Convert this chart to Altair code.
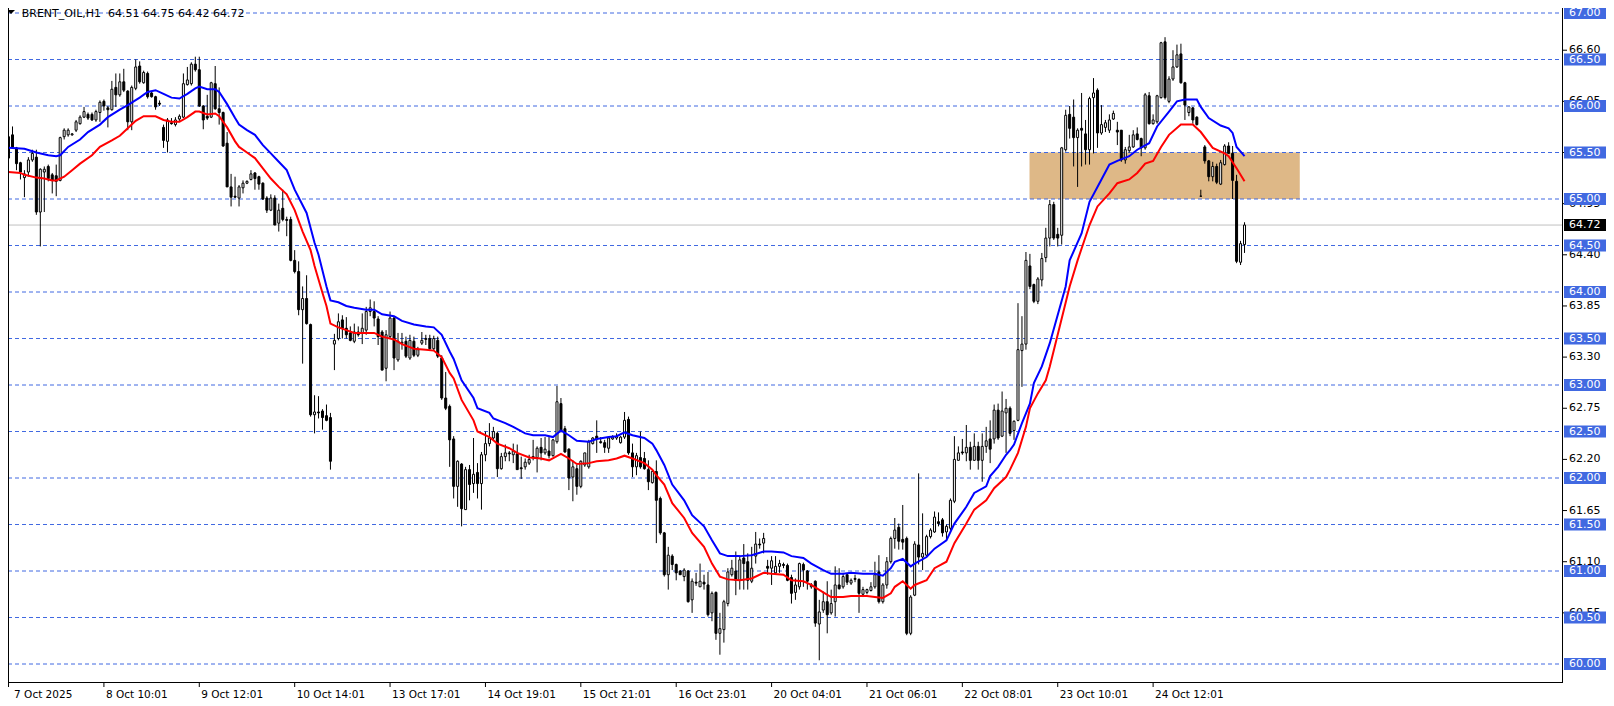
import altair as alt
import pandas as pd

# ---------------- values ----------------
# hourly bars, left to right (bar index = position in the lists)
bar_open = [
    65.44, 65.69, 65.55, 65.39, 65.23, 65.29, 65.42, 65.45, 64.86, 65.29,
    65.35, 65.26, 65.25, 65.20, 65.67, 65.69, 65.69, 65.74, 65.81, 65.88,
    65.91, 65.91, 65.85, 65.93, 66.05, 65.98, 65.96, 66.20, 66.12, 66.26,
    66.16, 65.83, 66.19, 66.43, 66.25, 66.35, 66.14, 66.10, 66.03, 65.77,
    65.62, 65.82, 65.80, 65.86, 65.88, 66.23, 66.24, 66.45, 66.39, 66.00,
    65.89, 65.88, 66.24, 65.97, 65.93, 65.60, 65.13, 65.03, 65.01, 65.12,
    65.17, 65.21, 65.28, 65.24, 65.17, 65.01, 64.88, 65.01, 64.74, 64.90,
    64.78, 64.78, 64.34, 64.22, 63.81, 63.93, 63.65, 62.68, 62.71, 62.72,
    62.67, 62.65, 63.44, 63.50, 63.70, 63.61, 63.56, 63.47, 63.57, 63.56,
    63.59, 63.79, 63.79, 63.71, 63.57, 63.18, 63.52, 63.72, 63.27, 63.45,
    63.47, 63.29, 63.47, 63.32, 63.45, 63.49, 63.50, 63.39, 63.48, 63.29,
    62.86, 62.77, 62.42, 61.91, 62.15, 61.66, 62.09, 61.94, 62.06, 61.94,
    62.25, 62.37, 62.43, 62.48, 62.10, 62.23, 62.27, 62.25, 62.26, 62.11,
    62.12, 62.16, 62.23, 62.22, 62.33, 62.27, 62.29, 62.24, 62.39, 62.80,
    62.53, 62.31, 62.01, 62.10, 61.91, 62.14, 62.12, 62.37, 62.45, 62.39,
    62.38, 62.32, 62.42, 62.43, 62.38, 62.44, 62.63, 62.27, 62.12, 62.22,
    62.21, 62.09, 61.95, 62.07, 61.78, 61.41, 60.96, 61.16, 61.07, 61.00,
    60.94, 61.00, 60.69, 60.88, 60.83, 60.88, 60.85, 60.55, 60.77, 60.33,
    60.37, 60.65, 60.96, 61.00, 60.90, 61.14, 61.10, 60.89, 61.16, 61.29,
    61.30, 61.05, 61.03, 60.98, 61.05, 61.07, 61.06, 60.93, 60.77, 60.83,
    61.07, 61.00, 60.83, 60.89, 60.43, 60.58, 60.67, 60.55, 60.67, 60.85,
    60.83, 60.96, 60.87, 60.92, 60.91, 60.75, 60.77, 60.79, 60.83, 60.99,
    60.67, 60.85, 61.10, 61.35, 61.47, 61.34, 61.35, 60.33, 60.74, 61.28,
    61.15, 61.17, 61.37, 61.42, 61.53, 61.55, 61.42, 61.46, 61.75, 62.19,
    62.28, 62.27, 62.33, 62.19, 62.34, 62.19, 62.34, 62.42, 62.42, 62.73,
    62.45, 62.70, 62.75, 62.51, 62.62, 63.37, 63.44, 64.28, 64.08, 63.90,
    64.13, 64.37, 64.58, 64.94, 64.62, 64.61, 65.53, 65.91, 65.88, 65.66,
    65.76, 65.70, 65.53, 66.09, 66.17, 65.71, 65.77, 65.74, 65.86, 65.74,
    65.74, 65.42, 65.52, 65.56, 65.70, 65.65, 65.55, 66.11, 65.81, 65.83,
    66.09, 66.69, 66.05, 66.29, 66.42, 66.56, 66.25, 65.93, 65.98, 65.88,
    65.03, 65.56, 65.41, 65.24, 65.35, 65.16, 65.37, 65.57, 65.49, 65.19, 64.32, 64.51,
]
bar_high = [
    65.78, 65.78, 65.56, 65.40, 65.31, 65.45, 65.53, 65.53, 65.33, 65.35,
    65.37, 65.28, 65.37, 65.67, 65.76, 65.76, 65.71, 65.85, 65.90, 65.99,
    65.93, 65.93, 65.96, 66.06, 66.07, 66.00, 66.27, 66.35, 66.35, 66.40,
    66.17, 66.22, 66.50, 66.48, 66.38, 66.37, 66.15, 66.11, 66.06, 65.80,
    65.87, 65.87, 65.88, 65.91, 66.35, 66.42, 66.47, 66.53, 66.53, 66.01,
    66.12, 66.26, 66.43, 66.20, 65.94, 65.72, 65.27, 65.24, 65.15, 65.20,
    65.20, 65.31, 65.29, 65.25, 65.18, 65.03, 65.05, 65.04, 64.95, 65.10,
    64.81, 64.81, 64.45, 64.33, 64.06, 64.18, 63.66, 62.89, 62.88, 62.74,
    62.79, 62.70, 63.55, 63.77, 63.75, 63.73, 63.63, 63.66, 63.63, 63.77,
    63.84, 63.92, 63.90, 63.74, 63.59, 63.59, 63.79, 63.74, 63.56, 63.56,
    63.52, 63.54, 63.52, 63.41, 63.57, 63.54, 63.54, 63.53, 63.52, 63.32,
    63.14, 62.79, 62.45, 62.19, 62.16, 62.12, 62.14, 62.43, 62.16, 62.28,
    62.50, 62.59, 62.55, 62.50, 62.27, 62.36, 62.29, 62.37, 62.36, 62.23,
    62.21, 62.25, 62.41, 62.34, 62.43, 62.44, 62.44, 62.42, 62.99, 62.86,
    62.56, 62.32, 62.19, 62.14, 62.19, 62.27, 62.41, 62.44, 62.62, 62.44,
    62.41, 62.44, 62.46, 62.48, 62.45, 62.71, 62.66, 62.37, 62.27, 62.50,
    62.28, 62.19, 62.09, 62.19, 61.80, 61.42, 61.26, 61.18, 61.08, 61.01,
    61.03, 61.01, 60.92, 60.98, 61.08, 60.96, 60.99, 60.78, 60.78, 60.55,
    60.69, 61.03, 61.12, 61.21, 61.16, 61.29, 61.19, 61.26, 61.42, 61.35,
    61.41, 61.12, 61.16, 61.16, 61.12, 61.09, 61.08, 60.96, 60.92, 61.09,
    61.09, 61.01, 60.87, 60.90, 60.69, 60.78, 60.89, 60.80, 61.05, 61.03,
    60.98, 60.98, 60.92, 60.96, 60.92, 60.83, 60.81, 60.88, 61.10, 61.17,
    60.87, 61.15, 61.37, 61.57, 61.51, 61.71, 61.37, 60.74, 61.32, 62.05,
    61.62, 61.39, 61.46, 61.64, 61.63, 61.57, 61.50, 61.78, 62.45, 62.34,
    62.42, 62.57, 62.39, 62.48, 62.39, 62.48, 62.55, 62.62, 62.79, 62.80,
    62.93, 62.85, 62.77, 62.62, 63.88, 63.74, 64.43, 64.41, 64.09, 64.16,
    64.42, 64.69, 64.99, 64.97, 64.69, 65.56, 65.96, 66.00, 66.07, 65.76,
    66.14, 65.85, 66.10, 66.30, 66.19, 66.01, 65.85, 65.91, 65.95, 65.83,
    65.74, 65.56, 65.69, 65.74, 65.77, 65.66, 66.14, 66.15, 65.91, 66.12,
    66.69, 66.74, 66.32, 66.60, 66.66, 66.67, 66.26, 66.00, 65.99, 65.89,
    65.10, 65.58, 65.42, 65.40, 65.38, 65.42, 65.59, 65.61, 65.57, 65.26, 64.55, 64.75,
]
bar_low = [
    65.42, 65.54, 65.31, 65.21, 65.02, 65.24, 65.40, 64.83, 64.49, 64.86,
    65.19, 65.06, 65.03, 65.19, 65.64, 65.67, 65.68, 65.72, 65.80, 65.87,
    65.85, 65.84, 65.83, 65.83, 65.95, 65.77, 65.95, 65.99, 66.10, 66.15,
    65.74, 65.74, 66.17, 66.24, 66.24, 66.08, 66.09, 65.96, 66.00, 65.55,
    65.50, 65.80, 65.78, 65.84, 65.87, 66.22, 66.22, 66.37, 65.99, 65.75,
    65.85, 65.87, 65.96, 65.80, 65.56, 65.13, 64.92, 65.01, 64.92, 65.06,
    65.16, 65.20, 65.10, 65.10, 64.99, 64.85, 64.87, 64.72, 64.65, 64.76,
    64.60, 64.33, 64.20, 63.75, 63.23, 63.65, 62.66, 62.48, 62.64, 62.52,
    62.61, 62.09, 63.16, 63.48, 63.50, 63.50, 63.47, 63.45, 63.52, 63.44,
    63.54, 63.74, 63.63, 63.43, 63.16, 63.04, 63.50, 63.16, 63.25, 63.38,
    63.29, 63.27, 63.30, 63.30, 63.43, 63.43, 63.38, 63.37, 63.29, 62.84,
    62.73, 62.12, 61.78, 61.69, 61.48, 61.66, 61.76, 61.84, 61.78, 61.66,
    62.18, 62.34, 62.41, 62.01, 62.09, 62.18, 62.18, 62.16, 62.09, 61.99,
    62.09, 62.14, 62.19, 62.06, 62.19, 62.25, 62.21, 62.23, 62.37, 62.49,
    62.27, 61.87, 61.75, 61.82, 61.89, 62.12, 62.10, 62.36, 62.27, 62.37,
    62.27, 62.27, 62.41, 62.41, 62.37, 62.42, 62.25, 62.01, 62.03, 62.10,
    62.09, 61.87, 61.94, 61.30, 61.39, 60.94, 60.80, 61.01, 60.90, 60.96,
    60.89, 60.66, 60.55, 60.84, 60.83, 60.80, 60.51, 60.46, 60.26, 60.10,
    60.23, 60.62, 60.94, 60.74, 60.80, 60.80, 60.80, 60.87, 61.08, 61.24,
    61.19, 60.96, 60.85, 60.96, 60.98, 61.03, 60.89, 60.65, 60.69, 60.80,
    60.83, 60.80, 60.81, 60.40, 60.04, 60.55, 60.33, 60.53, 60.51, 60.80,
    60.81, 60.85, 60.85, 60.88, 60.55, 60.72, 60.75, 60.78, 60.81, 60.65,
    60.65, 60.81, 61.08, 61.24, 61.23, 61.23, 60.31, 60.31, 60.73, 61.07,
    61.01, 61.15, 61.35, 61.41, 61.48, 61.37, 61.33, 61.44, 61.73, 62.19,
    62.25, 62.18, 62.09, 62.19, 62.09, 61.96, 62.27, 62.16, 62.37, 62.41,
    62.44, 62.27, 62.45, 62.41, 62.61, 62.98, 63.38, 64.03, 63.88, 63.87,
    64.06, 64.32, 64.49, 64.56, 64.49, 64.51, 65.51, 65.65, 65.35, 65.13,
    65.35, 65.37, 65.37, 65.49, 65.55, 65.69, 65.72, 65.71, 65.85, 65.58,
    65.40, 65.38, 65.50, 65.55, 65.63, 65.46, 65.53, 65.80, 65.80, 65.81,
    66.08, 66.07, 66.03, 66.27, 66.41, 66.24, 65.85, 65.89, 65.81, 65.79,
    65.03, 65.38, 65.19, 65.19, 65.16, 65.15, 65.36, 65.49, 65.00, 64.31, 64.29, 64.42,
]
bar_close = [
    65.67, 65.56, 65.38, 65.29, 65.27, 65.42, 65.49, 64.86, 65.32, 65.32,
    65.22, 65.20, 65.19, 65.66, 65.74, 65.74, 65.70, 65.83, 65.88, 65.94,
    65.87, 65.85, 65.94, 66.04, 66.00, 65.96, 66.18, 66.12, 66.26, 66.17,
    65.83, 66.20, 66.42, 66.26, 66.36, 66.10, 66.10, 65.99, 66.02, 65.63,
    65.85, 65.81, 65.85, 65.89, 66.24, 66.28, 66.45, 66.39, 66.00, 65.85,
    65.87, 66.25, 65.97, 65.93, 65.57, 65.13, 65.02, 65.02, 65.13, 65.17,
    65.19, 65.27, 65.22, 65.16, 65.00, 64.88, 65.01, 64.72, 64.88, 64.78,
    64.77, 64.34, 64.22, 63.81, 63.93, 63.66, 62.68, 62.71, 62.70, 62.65,
    62.62, 62.18, 63.48, 63.68, 63.61, 63.54, 63.48, 63.57, 63.54, 63.61,
    63.79, 63.83, 63.72, 63.52, 63.16, 63.54, 63.72, 63.29, 63.47, 63.46,
    63.31, 63.48, 63.32, 63.38, 63.48, 63.50, 63.39, 63.50, 63.31, 62.86,
    62.75, 62.41, 61.91, 62.18, 61.67, 62.09, 61.93, 62.04, 61.94, 62.25,
    62.37, 62.43, 62.50, 62.10, 62.23, 62.27, 62.26, 62.29, 62.09, 62.10,
    62.17, 62.20, 62.22, 62.32, 62.27, 62.31, 62.24, 62.41, 62.82, 62.50,
    62.28, 62.00, 62.12, 61.91, 62.18, 62.27, 62.39, 62.43, 62.42, 62.38,
    62.33, 62.43, 62.44, 62.45, 62.44, 62.62, 62.27, 62.12, 62.24, 62.12,
    62.10, 61.96, 62.07, 61.76, 61.41, 60.96, 61.17, 61.07, 60.98, 60.96,
    61.01, 60.67, 60.89, 60.87, 60.89, 60.86, 60.53, 60.76, 60.33, 60.38,
    60.67, 60.99, 61.03, 60.90, 61.12, 61.08, 60.90, 61.03, 61.29, 61.28,
    61.35, 61.03, 61.11, 61.05, 61.08, 61.06, 60.90, 60.76, 60.85, 61.08,
    61.01, 60.89, 60.85, 60.44, 60.56, 60.67, 60.53, 60.65, 60.85, 60.81,
    60.94, 60.88, 60.90, 60.91, 60.76, 60.80, 60.80, 60.83, 60.96, 60.67,
    60.85, 61.10, 61.35, 61.44, 61.32, 61.31, 60.33, 60.72, 61.29, 61.15,
    61.19, 61.37, 61.44, 61.58, 61.51, 61.41, 61.48, 61.76, 62.20, 62.27,
    62.27, 62.33, 62.19, 62.34, 62.19, 62.34, 62.40, 62.31, 62.73, 62.43,
    62.72, 62.75, 62.48, 62.61, 63.38, 63.44, 64.34, 64.06, 63.90, 64.14,
    64.36, 64.58, 64.94, 64.58, 64.58, 65.55, 65.90, 65.76, 65.66, 65.74,
    65.74, 65.53, 66.08, 66.14, 65.71, 65.80, 65.82, 65.85, 65.92, 65.72,
    65.42, 65.53, 65.56, 65.69, 65.64, 65.55, 66.12, 65.81, 65.85, 66.11,
    66.68, 66.09, 66.29, 66.42, 66.55, 66.25, 66.01, 65.99, 65.85, 65.80,
    65.03, 65.41, 65.24, 65.35, 65.18, 65.39, 65.57, 65.49, 65.20, 64.33, 64.52, 64.72,
]

# blue moving average (bar index, value)
blue_idx = [0, 4, 7, 10, 12, 13, 15, 18, 20, 23, 25, 28, 30, 33, 35, 37, 39, 41, 43, 45,
            47, 48, 50, 52, 53, 55, 57, 58, 60, 62, 64, 66, 68, 70, 72, 75, 77, 78, 80, 81,
            83, 85, 87, 90, 92, 94, 97, 99, 102, 105, 107, 109, 111, 112, 114, 117, 118, 121, 122, 125,
            127, 130, 132, 135, 137, 139, 141, 143, 146, 148, 151, 153, 155, 157, 160, 162, 163, 165, 167, 170,
            172, 175, 177, 179, 181, 184, 187, 190, 192, 195, 197, 200, 202, 205, 207, 210, 212, 215, 218, 220,
            222, 223, 225, 227, 228, 231, 233, 236, 238, 241, 243, 246, 247, 249, 251, 252, 253, 255, 257, 258,
            260, 262, 266, 267, 270, 272, 275, 277, 279, 282, 284, 287, 289, 292, 294, 296, 299, 300, 302, 305,
            307, 308, 309, 311]
blue_val = [65.55, 65.54, 65.50, 65.47, 65.46, 65.47, 65.56, 65.64, 65.72, 65.80, 65.88, 65.96, 66.01, 66.09, 66.15, 66.17, 66.13, 66.09, 66.08, 66.13,
            66.19, 66.21, 66.18, 66.18, 66.15, 66.02, 65.87, 65.80, 65.74, 65.69, 65.58, 65.49, 65.40, 65.31, 65.10, 64.85, 64.53, 64.40, 64.06, 63.91,
            63.89, 63.85, 63.83, 63.81, 63.81, 63.76, 63.74, 63.69, 63.65, 63.63, 63.62, 63.54, 63.36, 63.28, 63.05, 62.86, 62.75, 62.70, 62.64, 62.59,
            62.55, 62.48, 62.46, 62.46, 62.44, 62.51, 62.46, 62.40, 62.39, 62.42, 62.44, 62.45, 62.49, 62.46, 62.43, 62.37, 62.30, 62.14, 61.93, 61.76,
            61.60, 61.48, 61.33, 61.19, 61.16, 61.16, 61.17, 61.21, 61.21, 61.20, 61.16, 61.14, 61.08, 61.01, 60.97, 60.97, 60.98, 60.97, 60.97, 60.95,
            61.03, 61.10, 61.13, 61.05, 61.08, 61.15, 61.24, 61.33, 61.51, 61.69, 61.84, 61.91, 62.02, 62.12, 62.25, 62.30, 62.36, 62.59, 62.80, 63.02,
            63.20, 63.45, 64.06, 64.34, 64.63, 64.97, 65.21, 65.37, 65.41, 65.46, 65.53, 65.60, 65.78, 65.94, 66.05, 66.07, 66.07, 65.99, 65.87, 65.79,
            65.76, 65.71, 65.56, 65.46]

# red moving average (bar index, value)
red_idx = [0, 3, 4, 7, 9, 11, 12, 14, 16, 18, 21, 23, 26, 28, 29, 30, 32, 34, 37, 39,
           41, 43, 45, 47, 48, 50, 52, 53, 55, 57, 58, 60, 62, 64, 66, 68, 70, 72, 74, 76,
           77, 79, 80, 81, 83, 85, 87, 90, 92, 94, 97, 99, 102, 105, 107, 109, 111, 112, 114, 117,
           118, 121, 123, 126, 128, 131, 134, 136, 139, 141, 143, 146, 148, 151, 153, 155, 157, 160, 162, 163,
           165, 167, 170, 172, 175, 177, 179, 181, 184, 187, 190, 192, 195, 197, 200, 202, 205, 207, 210, 212,
           216, 218, 220, 222, 223, 225, 227, 228, 231, 233, 236, 238, 241, 243, 246, 248, 251, 252, 254, 256,
           257, 259, 261, 262, 267, 269, 272, 274, 277, 279, 282, 284, 286, 288, 290, 292, 295, 298, 300, 303,
           306, 307, 309, 311]
red_val = [65.29, 65.28, 65.26, 65.23, 65.22, 65.20, 65.20, 65.24, 65.31, 65.38, 65.47, 65.56, 65.63, 65.68, 65.72, 65.76, 65.84, 65.89, 65.89, 65.85,
           65.83, 65.83, 65.88, 65.94, 65.94, 65.91, 65.92, 65.89, 65.77, 65.62, 65.56, 65.50, 65.44, 65.33, 65.22, 65.13, 65.05, 64.88, 64.65, 64.45,
           64.28, 63.99, 63.85, 63.66, 63.62, 63.59, 63.56, 63.56, 63.56, 63.52, 63.49, 63.44, 63.39, 63.38, 63.37, 63.30, 63.13, 63.07, 62.84, 62.62,
           62.50, 62.44, 62.37, 62.32, 62.27, 62.22, 62.21, 62.19, 62.26, 62.21, 62.15, 62.16, 62.18, 62.19, 62.21, 62.24, 62.21, 62.16, 62.09, 62.03,
           61.93, 61.73, 61.57, 61.41, 61.26, 61.08, 60.94, 60.91, 60.90, 60.92, 60.98, 60.97, 60.96, 60.90, 60.89, 60.85, 60.77, 60.72, 60.72, 60.73,
           60.73, 60.72, 60.71, 60.76, 60.83, 60.89, 60.81, 60.85, 60.90, 61.03, 61.10, 61.30, 61.51, 61.66, 61.76, 61.89, 62.01, 62.09, 62.27, 62.55,
           62.75, 62.91, 63.05, 63.20, 64.06, 64.34, 64.72, 64.92, 65.06, 65.17, 65.21, 65.28, 65.38, 65.41, 65.56, 65.69, 65.80, 65.80, 65.72, 65.55,
           65.49, 65.46, 65.33, 65.19]

# shaded zone (bar index span, price span)
zone_bars = [256.9, 324.9]
zone_prices = [65.0, 65.5]

last_price = 64.72
title_text = "BRENT_OIL,H1\u00a0\u00a064.51 64.75 64.42 64.72"

grid_levels = [60.00, 60.50, 61.00, 61.50, 62.00, 62.50, 63.00, 63.50,
               64.00, 64.50, 65.00, 65.50, 66.00, 66.50, 67.00]
scale_levels = [60.55, 61.10, 61.65, 62.20, 62.75, 63.30, 63.85, 64.40,
                64.95, 65.50, 66.05, 66.60]

time_tick_bars = [0, 24, 48, 72, 96, 120, 144, 168, 192, 216, 240, 264, 288]
time_tick_labels = ["7 Oct 2025", "8 Oct 10:01", "9 Oct 12:01", "10 Oct 14:01",
                    "13 Oct 17:01", "14 Oct 19:01", "15 Oct 21:01", "16 Oct 23:01",
                    "20 Oct 04:01", "21 Oct 06:01", "22 Oct 08:01", "23 Oct 10:01",
                    "24 Oct 12:01"]

n = len(bar_open)
assert n == len(bar_high) == len(bar_low) == len(bar_close), (len(bar_open), len(bar_high), len(bar_low), len(bar_close))
assert len(blue_idx) == len(blue_val), (len(blue_idx), len(blue_val))
assert len(red_idx) == len(red_val), (len(red_idx), len(red_val))

# ---------------- tables ----------------
candles = pd.DataFrame({"i": list(range(n)), "o": bar_open, "h": bar_high,
                        "l": bar_low, "c": bar_close})
candles["fill"] = ["white" if c >= o else "black" for o, c in zip(bar_open, bar_close)]
blue_df = pd.DataFrame({"i": blue_idx, "v": blue_val})
red_df = pd.DataFrame({"i": red_idx, "v": red_val})
zone_df = pd.DataFrame({"x0": [zone_bars[0]], "x1": [zone_bars[1]],
                        "lo": [zone_prices[0]], "hi": [zone_prices[1]]})
grid_df = pd.DataFrame({"lvl": grid_levels, "label": [f"{v:.2f}" for v in grid_levels]})
scale_df = pd.DataFrame({"lvl": scale_levels, "label": [f"{v:.2f}" for v in scale_levels]})
last_df = pd.DataFrame({"lvl": [last_price], "label": [f"{last_price:.2f}"]})
time_df = pd.DataFrame({"i": time_tick_bars, "label": time_tick_labels})
one = pd.DataFrame({"k": [0]})

# ---------------- layout ----------------
PW, PH = 1554, 674
FONT = "DejaVu Sans"
GRID_BLUE = "#4169E1"

xs = alt.Scale(domain=[1.125, 389.625], nice=False, zero=False)
ys = alt.Scale(domain=[59.8065, 67.0538], nice=False, zero=False)


def X(f):
    return alt.X(f, type="quantitative", scale=xs, axis=None)


def Y(f):
    return alt.Y(f, type="quantitative", scale=ys, axis=None)


zone = alt.Chart(zone_df).mark_rect(color="#DEB887").encode(
    x=X("x0"), x2=alt.X2("x1"), y=Y("lo"), y2=alt.Y2("hi"))

grid = alt.Chart(grid_df).mark_rule(color=GRID_BLUE, strokeWidth=1, strokeDash=[4, 3]).encode(
    y=Y("lvl"), x=alt.value(0), x2=alt.value(PW))

last_line = alt.Chart(last_df).mark_rule(color="#C0C0C0", strokeWidth=1).encode(
    y=Y("lvl"), x=alt.value(0), x2=alt.value(PW))

wicks = alt.Chart(candles).mark_rule(color="black", strokeWidth=1).encode(
    x=X("i"), y=Y("l"), y2=alt.Y2("h"))

bodies = alt.Chart(candles).mark_bar(size=2, stroke="black", strokeWidth=1).encode(
    x=X("i"), y=Y("o"), y2=alt.Y2("c"), fill=alt.Fill("fill:N", scale=None))

blue_line = alt.Chart(blue_df).mark_line(color="#0000FF", strokeWidth=2).encode(
    x=X("i"), y=Y("v"))
red_line = alt.Chart(red_df).mark_line(color="#FF0000", strokeWidth=2).encode(
    x=X("i"), y=Y("v"))

right_frame = alt.Chart(one).mark_rule(color="black", strokeWidth=1).encode(
    x=alt.value(PW + 0.5), y=alt.value(0), y2=alt.value(PH + 0.5))
bottom_frame = alt.Chart(one).mark_rule(color="black", strokeWidth=1).encode(
    x=alt.value(0), x2=alt.value(PW + 1), y=alt.value(PH + 0.5))
left_frame = alt.Chart(one).mark_rule(color="black", strokeWidth=1).encode(
    x=alt.value(0.5), y=alt.value(0), y2=alt.value(PH + 0.5))

# right price scale
scale_ticks = alt.Chart(scale_df).mark_rule(color="black", strokeWidth=1).encode(
    y=Y("lvl"), x=alt.value(PW + 1), x2=alt.value(PW + 5))
scale_text = alt.Chart(scale_df).mark_text(
    align="left", baseline="middle", font=FONT, fontSize=11, color="black").encode(
    y=Y("lvl"), x=alt.value(PW + 7), text="label:N")
grid_boxes = alt.Chart(grid_df).mark_rect(color=GRID_BLUE, yOffset=-6, y2Offset=6).encode(
    y=Y("lvl"), y2=alt.Y2("lvl"), x=alt.value(PW + 2), x2=alt.value(PW + 44))
grid_box_text = alt.Chart(grid_df).mark_text(
    align="left", baseline="middle", font=FONT, fontSize=11, color="white").encode(
    y=Y("lvl"), x=alt.value(PW + 7), text="label:N")
last_box = alt.Chart(last_df).mark_rect(color="black", yOffset=-6, y2Offset=6).encode(
    y=Y("lvl"), y2=alt.Y2("lvl"), x=alt.value(PW + 2), x2=alt.value(PW + 44))
last_box_text = alt.Chart(last_df).mark_text(
    align="left", baseline="middle", font=FONT, fontSize=11, color="white").encode(
    y=Y("lvl"), x=alt.value(PW + 7), text="label:N")

# bottom time scale
time_ticks = alt.Chart(time_df).mark_rule(color="black", strokeWidth=1).encode(
    x=X("i"), y=alt.value(PH + 1), y2=alt.value(PH + 5))
time_text = alt.Chart(time_df).transform_calculate(
    lx="max(datum.i, 0.9)").mark_text(
    align="left", baseline="alphabetic", font=FONT, fontSize=10.5, color="black", dx=2).encode(
    x=X("lx"), y=alt.value(PH + 15.5), text="label:N")

# top-left caption
caption = alt.Chart(one).mark_text(
    align="left", baseline="alphabetic", font=FONT, fontSize=11, color="black").encode(
    x=alt.value(13.7), y=alt.value(9), text=alt.value(title_text))
caption_mark = alt.Chart(one).mark_point(
    shape="M-1,-0.5L1,-0.5L0,0.5Z", filled=True, size=64, color="black", opacity=1).encode(
    x=alt.value(3), y=alt.value(4))

chart = alt.layer(
    zone, grid, last_line, wicks, bodies, blue_line, red_line,
    right_frame, bottom_frame, left_frame,
    scale_ticks, scale_text, grid_boxes, grid_box_text, last_box, last_box_text,
    time_ticks, time_text, caption, caption_mark,
).properties(
    width=PW, height=PH,
    autosize=alt.AutoSizeParams(type="none"),
    padding={"left": 0, "top": 0, "right": 44, "bottom": 16},
    background="white",
).configure_view(strokeWidth=0)

chart.save("out.html", embed_options={"renderer": "svg", "actions": False})
